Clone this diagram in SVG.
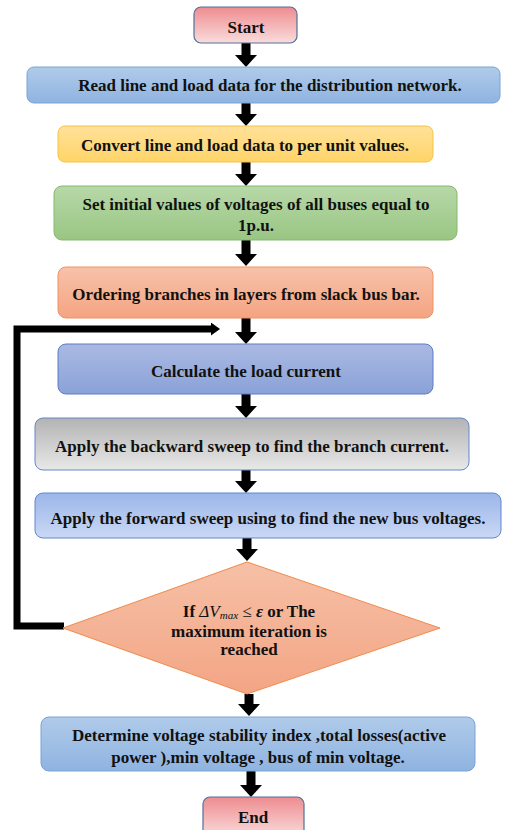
<svg xmlns="http://www.w3.org/2000/svg" width="509" height="830" viewBox="0 0 509 830" font-family="Liberation Serif, Times New Roman, serif">
<defs>
<linearGradient id="gPink" x1="0" y1="0" x2="0" y2="1"><stop offset="0" stop-color="#ee8c90"/><stop offset="1" stop-color="#fadcdc"/></linearGradient>
<linearGradient id="gBlue" x1="0" y1="0" x2="0" y2="1"><stop offset="0" stop-color="#b0cbea"/><stop offset="1" stop-color="#8fb3e0"/></linearGradient>
<linearGradient id="gYellow" x1="0" y1="0" x2="0" y2="1"><stop offset="0" stop-color="#ffe19a"/><stop offset="1" stop-color="#ffd468"/></linearGradient>
<linearGradient id="gGreen" x1="0" y1="0" x2="0" y2="1"><stop offset="0" stop-color="#b7d8a8"/><stop offset="1" stop-color="#99c683"/></linearGradient>
<linearGradient id="gSalmon" x1="0" y1="0" x2="0" y2="1"><stop offset="0" stop-color="#f8c2aa"/><stop offset="1" stop-color="#f4a482"/></linearGradient>
<linearGradient id="gPeri" x1="0" y1="0" x2="0" y2="1"><stop offset="0" stop-color="#aab9e2"/><stop offset="1" stop-color="#8aa2d8"/></linearGradient>
<linearGradient id="gGray" x1="0" y1="0" x2="0" y2="1"><stop offset="0" stop-color="#b3b3b3"/><stop offset="1" stop-color="#e8e8e8"/></linearGradient>
<linearGradient id="gFwd" x1="0" y1="0" x2="0" y2="1"><stop offset="0" stop-color="#9bb6ea"/><stop offset="1" stop-color="#cad8f4"/></linearGradient>
<linearGradient id="gDia" x1="0" y1="0" x2="0" y2="1"><stop offset="0" stop-color="#f6c0a6"/><stop offset="1" stop-color="#f3a585"/></linearGradient>
<marker id="ah" viewBox="0 0 12 22" refX="0" refY="11" markerWidth="12" markerHeight="22" markerUnits="userSpaceOnUse" orient="auto"><path d="M0,0 L12,11 L0,22 z" fill="#000"/></marker>
<marker id="ahs" viewBox="0 0 9 13" refX="0" refY="6.5" markerWidth="9" markerHeight="13" markerUnits="userSpaceOnUse" orient="auto"><path d="M0,0 L9,6.5 L0,13 z" fill="#000"/></marker>
</defs>
<style>
.t{font-weight:bold;font-size:17px;fill:#111;text-anchor:middle}
.a{stroke:#000;stroke-width:9;fill:none;marker-end:url(#ah)}
.loop{stroke:#000;stroke-width:7;fill:none;marker-end:url(#ahs);stroke-linejoin:miter}
</style>
<g id="connectors">
<line class="a" x1="246" y1="43" x2="246" y2="55"/>
<line class="a" x1="246" y1="103" x2="246" y2="114"/>
<line class="a" x1="246" y1="162" x2="246" y2="174"/>
<line class="a" x1="246" y1="240" x2="246" y2="254"/>
<line class="a" x1="246" y1="318" x2="246" y2="332"/>
<line class="a" x1="246" y1="394" x2="246" y2="406"/>
<line class="a" x1="246" y1="470" x2="246" y2="481"/>
<line class="a" x1="247" y1="538" x2="247" y2="549"/>
<line class="a" x1="249" y1="694" x2="249" y2="704"/>
<line class="a" x1="251" y1="771" x2="251" y2="785"/>
<polyline class="loop" points="64,626 17,626 17,329 211,329"/>
</g>
<g id="start"><rect x="194" y="7" width="103" height="36" rx="7" fill="url(#gPink)" stroke="#51709c" stroke-width="1.2"/><text class="t" x="246" y="33">Start</text></g>
<g id="read"><rect x="27" y="67" width="473" height="36" rx="7" fill="url(#gBlue)" stroke="#7aa3d6" stroke-width="1"/><text class="t" x="270" y="91">Read line and load data for the distribution network.</text></g>
<g id="convert"><rect x="58" y="126" width="375" height="36" rx="7" fill="url(#gYellow)" stroke="#f5c342" stroke-width="1"/><text class="t" x="245" y="151">Convert line and load data to per unit values.</text></g>
<g id="set"><rect x="54" y="186" width="403" height="54" rx="8" fill="url(#gGreen)" stroke="#86b96d" stroke-width="1"/><text class="t" x="256" y="210">Set initial values of voltages of all buses equal to</text><text class="t" x="256" y="231">1p.u.</text></g>
<g id="ordering"><rect x="58" y="267" width="375" height="51" rx="8" fill="url(#gSalmon)" stroke="#f09260" stroke-width="1"/><text class="t" x="246" y="300">Ordering branches in layers from slack bus bar.</text></g>
<g id="calculate"><rect x="58" y="344" width="375" height="50" rx="8" fill="url(#gPeri)" stroke="#5b7cc6" stroke-width="1"/><text class="t" x="246" y="377">Calculate the load current</text></g>
<g id="backward"><rect x="35" y="418" width="434" height="52" rx="8" fill="url(#gGray)" stroke="#6387cc" stroke-width="1"/><text class="t" x="252" y="452">Apply the backward sweep to find the branch current.</text></g>
<g id="forward"><rect x="35" y="493" width="466" height="45" rx="8" fill="url(#gFwd)" stroke="#6387cc" stroke-width="1"/><text class="t" x="268" y="524">Apply the forward sweep using to find the new bus voltages.</text></g>
<g id="decision"><polygon points="247,562 440,628 247,694 63,628" fill="url(#gDia)" stroke="#f08a4a" stroke-width="1"/><text class="t" x="249" y="617">If  <tspan font-weight="normal" font-style="italic">ΔV</tspan><tspan font-weight="normal" font-style="italic" font-size="11" dy="2">max</tspan><tspan dy="-2" font-weight="normal"> ≤ </tspan><tspan font-style="italic">ε</tspan> or The</text><text class="t" x="249" y="637">maximum iteration is</text><text class="t" x="249" y="655">reached</text></g>
<g id="determine"><rect x="41" y="717" width="434" height="54" rx="8" fill="url(#gBlue)" stroke="#7aa3d6" stroke-width="1"/><text class="t" x="259" y="741">Determine voltage stability index ,total losses(active</text><text class="t" x="258" y="763">power ),min voltage , bus of min voltage.</text></g>
<g id="end"><rect x="203" y="797" width="101" height="40" rx="7" fill="url(#gPink)" stroke="#51709c" stroke-width="1.2"/><text class="t" x="253" y="823">End</text></g>
</svg>
